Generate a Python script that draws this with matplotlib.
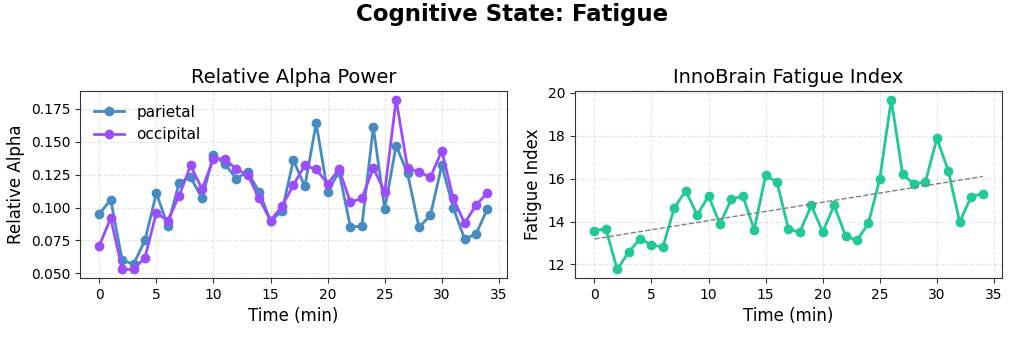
import numpy as np
import matplotlib
matplotlib.use("Agg")
import matplotlib.pyplot as plt

time_min = list(range(35))
parietal = [0.095, 0.106, 0.060, 0.057, 0.075, 0.111, 0.086, 0.119, 0.123, 0.107,
            0.140, 0.133, 0.122, 0.127, 0.112, 0.090, 0.097, 0.136, 0.116, 0.164,
            0.112, 0.127, 0.085, 0.086, 0.161, 0.099, 0.147, 0.126, 0.085, 0.094,
            0.132, 0.100, 0.076, 0.080, 0.099]
occipital = [0.071, 0.092, 0.053, 0.053, 0.062, 0.096, 0.090, 0.109, 0.132, 0.114,
             0.137, 0.137, 0.129, 0.125, 0.107, 0.090, 0.101, 0.117, 0.132, 0.129,
             0.118, 0.129, 0.104, 0.107, 0.130, 0.112, 0.182, 0.130, 0.127, 0.123,
             0.143, 0.107, 0.088, 0.102, 0.111]
fatigue = [13.58, 13.66, 11.77, 12.57, 13.21, 12.91, 12.82, 14.64, 15.44, 14.31,
           15.19, 13.89, 15.05, 15.19, 13.63, 16.16, 15.83, 13.64, 13.52, 14.76,
           13.52, 14.76, 13.33, 13.12, 13.92, 16.00, 19.69, 16.20, 15.74, 15.86,
           17.88, 16.36, 13.98, 15.16, 15.30]

c_par = "#468cc0"
c_occ = "#9b4dff"
c_fat = "#20c997"

fig = plt.figure(figsize=(10.24, 3.41), dpi=100)
ax1 = fig.add_axes([0.078, 0.185, 0.417, 0.548])
ax2 = fig.add_axes([0.5615, 0.185, 0.417, 0.548])

fig.suptitle("Cognitive State: Fatigue", fontsize=16.5, fontweight="bold", y=0.99)

ax1.plot(time_min, parietal, "-o", color=c_par, lw=2, ms=6, label="parietal")
ax1.plot(time_min, occipital, "-o", color=c_occ, lw=2, ms=6, label="occipital")
ax1.set_title("Relative Alpha Power", fontsize=14)
ax1.set_xlabel("Time (min)", fontsize=12)
ax1.set_ylabel("Relative Alpha", fontsize=12)
ax1.legend(loc="upper left", frameon=False, fontsize=11)

ax2.plot(time_min, fatigue, "-o", color=c_fat, lw=2, ms=6)
coef = np.polyfit(time_min, fatigue, 1)
ax2.plot(time_min, np.polyval(coef, time_min), "--", color="gray", lw=1)
ax2.set_title("InnoBrain Fatigue Index", fontsize=14)
ax2.set_xlabel("Time (min)", fontsize=12)
ax2.set_ylabel("Fatigue Index", fontsize=12)

for ax in (ax1, ax2):
    ax.grid(True, linestyle="--", alpha=0.3)
    ax.tick_params(labelsize=10, color="#333333")
    for s in ax.spines.values():
        s.set_color("#333333")

fig.savefig("out.png", dpi=100)
